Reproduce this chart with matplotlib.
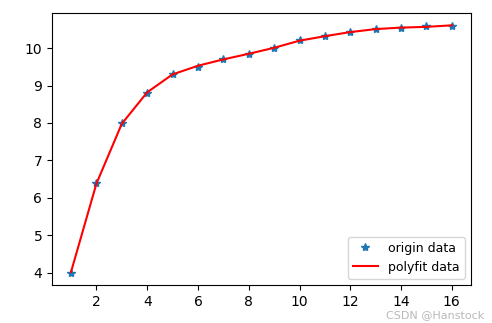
import numpy as np
import matplotlib
matplotlib.use('Agg')
import matplotlib.pyplot as plt

# data
x = [1, 2, 3, 4, 5, 6, 7, 8, 9, 10, 11, 12, 13, 14, 15, 16]
y_origin = [4.00, 6.40, 8.00, 8.80, 9.30, 9.50, 9.70, 9.85,
            10.00, 10.22, 10.32, 10.43, 10.51, 10.55, 10.58, 10.60]
y_fit = [4.02, 6.38, 7.98, 8.82, 9.30, 9.53, 9.70, 9.85,
         10.01, 10.20, 10.32, 10.43, 10.51, 10.55, 10.57, 10.61]

fig = plt.figure(figsize=(4.92, 3.23), dpi=100)
ax = fig.add_axes([0.1057, 0.1176, 0.8513, 0.8422])

ax.plot(x, y_origin, '*', label='origin data')
ax.plot(x, y_fit, 'r', label='polyfit data')
ax.legend(loc='lower right', fontsize=9)

# watermark
fig.text(0.985, 0.008, 'CSDN @Hanstock', ha='right', va='bottom',
         color='#b8b8b8', fontsize=8)

fig.savefig('out.png', dpi=100)
